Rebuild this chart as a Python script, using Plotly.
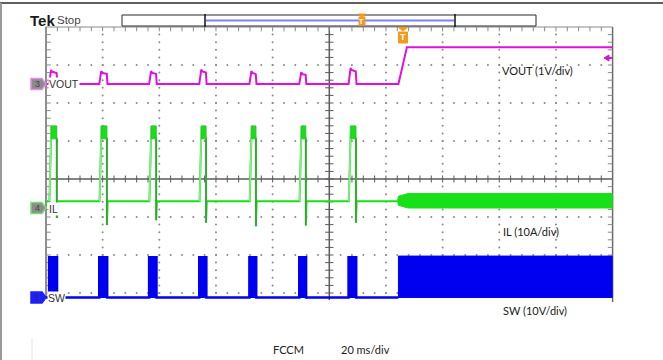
import plotly.graph_objects as go

W, H = 663, 360

# ---------------- data ----------------
T_END_MS = 200.0                      # 10 div x 20 ms/div
PULSE_ON_MS = [1.1, 18.8, 36.4, 54.1, 71.8, 89.4, 106.8]
PULSE_OFF_MS = [3.9, 21.6, 39.0, 56.6, 74.2, 91.8, 109.5]
SWITCH_START_MS = 124.4
SWITCH_FULL_MS = 127.8

VOUT_BASE_V = 0.0
VOUT_PEAK_V = [0.37, 0.34, 0.34, 0.38, 0.34, 0.31, 0.42]
VOUT_SAG_V = [0.29, 0.27, 0.27, 0.30, 0.26, 0.24, 0.33]
VOUT_RISE_END_MS = 127.4
VOUT_FINAL_V = 0.97

IL_BASE_A = 1.8
IL_PEAK_TOP_A = [21.6, 21.6, 21.6, 21.6, 21.6, 21.6, 21.6]
IL_PEAK_BOT_A = [18.2, 18.2, 18.2, 18.2, 18.2, 18.2, 18.2]
IL_UNDERSHOOT_A = [-2.6, -4.5, -3.2, -3.9, -4.8, -4.6, -3.9]
IL_RIPPLE_LOW_A = 0.0
IL_RIPPLE_HIGH_A = 3.8

SW_LOW_V = 0.0
SW_HIGH_V = [10.6, 10.6, 10.6, 10.6, 10.6, 10.6, 10.6]
SW_RIPPLE_HIGH_V = 10.9

# ---------------- scope geometry / style ----------------
GRID_TOP_DIV, GRID_BOT_DIV = 4.0, -3.184
VOUT_GND_DIV, VOUT_SCALE = 2.5, 1.0
IL_GND_DIV, IL_SCALE = -0.763, 10.0
SW_GND_DIV, SW_SCALE = -3.118, 10.0

C_VOUT = "#e010e0"
C_IL = "#18e018"
C_IL_RISE = "#8ee88e"
C_IL_FALL = "#3f9a3f"
C_SW = "#0000f0"
C_GRID = "#8a8a8a"
C_AXIS = "#5a5a5a"
ORANGE = "#f29a1a"

X0, X1 = 46.0, 612.6      # grid left/right in px
Y0, Y1 = 27.0, 300.0      # grid top/bottom in px


def px(x):
    return x / W


def py(y):
    return 1 - y / H


def ch_range(gnd, scale):
    return [(GRID_BOT_DIV - gnd) * scale, (GRID_TOP_DIV - gnd) * scale]


fig = go.Figure()

# ---------- grid dots ----------
gx, gy = [], []
minor_x = [i * 4.0 for i in range(0, 51)]
minor_y = [round(4 - 0.2 * k, 3) for k in range(0, 37) if 4 - 0.2 * k >= GRID_BOT_DIV]
for ymaj in [3, 2, 1, -1, -2, -3]:
    for xv in minor_x[1:-1]:
        if abs(xv - 100) > 0.1:
            gx.append(xv)
            gy.append(ymaj)
for xmaj in [20, 40, 60, 80, 120, 140, 160, 180]:
    for yv in minor_y[1:]:
        if abs(yv) > 0.05:
            gx.append(xmaj)
            gy.append(yv)
fig.add_trace(go.Scatter(x=gx, y=gy, mode="markers", hoverinfo="skip",
                         marker=dict(size=2, color=C_GRID), showlegend=False))

# ticks on center lines and frame edges
tx = [xv for xv in minor_x[1:-1]]
fig.add_trace(go.Scatter(x=tx, y=[0] * len(tx), mode="markers", hoverinfo="skip", showlegend=False,
                         marker=dict(symbol="line-ns", size=5, line=dict(width=1, color=C_AXIS))))
fig.add_trace(go.Scatter(x=tx, y=[GRID_TOP_DIV - 0.04] * len(tx), mode="markers", hoverinfo="skip",
                         showlegend=False,
                         marker=dict(symbol="line-ns", size=4, line=dict(width=1, color=C_GRID))))
ty = [yv for yv in minor_y[1:]]
fig.add_trace(go.Scatter(x=[100] * len(ty), y=ty, mode="markers", hoverinfo="skip", showlegend=False,
                         marker=dict(symbol="line-ew", size=6, line=dict(width=1, color=C_AXIS))))
fig.add_trace(go.Scatter(x=[0.7] * len(ty), y=ty, mode="markers", hoverinfo="skip", showlegend=False,
                         marker=dict(symbol="line-ew", size=4, line=dict(width=1, color=C_GRID))))
fig.add_trace(go.Scatter(x=[199.3] * len(ty), y=ty, mode="markers", hoverinfo="skip", showlegend=False,
                         marker=dict(symbol="line-ew", size=4, line=dict(width=1, color=C_GRID))))

# ---------- VOUT ----------
vt, vv = [0.0], [VOUT_BASE_V]
for on, off, pk, sg in zip(PULSE_ON_MS, PULSE_OFF_MS, VOUT_PEAK_V, VOUT_SAG_V):
    vt += [on, on + 0.7, on + 1.1, off - 0.15, off + 0.1]
    vv += [VOUT_BASE_V, pk, pk - 0.05, sg, VOUT_BASE_V]
vt += [SWITCH_START_MS, VOUT_RISE_END_MS, T_END_MS]
vv += [VOUT_BASE_V, VOUT_FINAL_V, VOUT_FINAL_V]
fig.add_trace(go.Scatter(x=vt, y=vv, yaxis="y2", mode="lines", hoverinfo="skip", showlegend=False,
                         line=dict(color=C_VOUT, width=2)))

# ---------- IL ----------
it, iv = [0.0], [IL_BASE_A]
for on, off, top, bot, us in zip(PULSE_ON_MS, PULSE_OFF_MS, IL_PEAK_TOP_A, IL_PEAK_BOT_A, IL_UNDERSHOOT_A):
    it += [on + 0.1, on + 0.8, off - 0.1, off - 0.1, off + 0.15]
    iv += [IL_BASE_A, top, bot, us, IL_BASE_A]
it += [SWITCH_START_MS - 0.3]
iv += [IL_BASE_A]
fig.add_trace(go.Scatter(x=it, y=iv, yaxis="y3", mode="lines", hoverinfo="skip", showlegend=False,
                         line=dict(color=C_IL, width=2)))
# rising edges (lighter) and falling edges (darker)
rx, ry, fx, fy = [], [], [], []
for on, off, top, bot, us in zip(PULSE_ON_MS, PULSE_OFF_MS, IL_PEAK_TOP_A, IL_PEAK_BOT_A, IL_UNDERSHOOT_A):
    rx += [on + 0.1, on + 0.8, None]
    ry += [IL_BASE_A, top, None]
    fx += [off - 0.1, off - 0.1, None]
    fy += [bot, us, None]
fig.add_trace(go.Scatter(x=rx, y=ry, yaxis="y3", mode="lines", hoverinfo="skip", showlegend=False,
                         line=dict(color=C_IL_RISE, width=1.5)))
fig.add_trace(go.Scatter(x=fx, y=fy, yaxis="y3", mode="lines", hoverinfo="skip", showlegend=False,
                         line=dict(color=C_IL_FALL, width=1.5)))
# peak ripple blocks
for on, off, top, bot in zip(PULSE_ON_MS, PULSE_OFF_MS, IL_PEAK_TOP_A, IL_PEAK_BOT_A):
    fig.add_trace(go.Scatter(x=[on + 0.8, off - 0.1, off - 0.1, on + 0.8, on + 0.8],
                             y=[top, top, bot, bot, top], yaxis="y3", mode="lines", fill="toself",
                             fillcolor=C_IL, hoverinfo="skip", showlegend=False,
                             line=dict(color="#2fbf2f", width=1)))
# continuous switching ripple band
mid = (IL_RIPPLE_LOW_A + IL_RIPPLE_HIGH_A) / 2
fig.add_trace(go.Scatter(
    x=[SWITCH_START_MS - 0.3, SWITCH_START_MS, SWITCH_FULL_MS, T_END_MS, T_END_MS,
       SWITCH_FULL_MS, SWITCH_START_MS, SWITCH_START_MS - 0.3],
    y=[mid, mid + 1.2, IL_RIPPLE_HIGH_A, IL_RIPPLE_HIGH_A, IL_RIPPLE_LOW_A,
       IL_RIPPLE_LOW_A, mid - 1.2, mid],
    yaxis="y3", mode="lines", fill="toself", fillcolor=C_IL, hoverinfo="skip", showlegend=False,
    line=dict(color=C_IL, width=1)))

# ---------- SW ----------
st, sv = [0.0], [SW_LOW_V]
for on, off, hi in zip(PULSE_ON_MS, PULSE_OFF_MS, SW_HIGH_V):
    st += [on, on, off, off]
    sv += [SW_LOW_V, hi, hi, SW_LOW_V]
st += [SWITCH_START_MS]
sv += [SW_LOW_V]
fig.add_trace(go.Scatter(x=st, y=sv, yaxis="y4", mode="lines", hoverinfo="skip", showlegend=False,
                         line=dict(color=C_SW, width=2.5)))
for on, off, hi in zip(PULSE_ON_MS, PULSE_OFF_MS, SW_HIGH_V):
    fig.add_trace(go.Scatter(x=[on, off, off, on, on], y=[SW_LOW_V, SW_LOW_V, hi, hi, SW_LOW_V],
                             yaxis="y4", mode="lines", fill="toself", fillcolor=C_SW,
                             hoverinfo="skip", showlegend=False, line=dict(color=C_SW, width=1)))
fig.add_trace(go.Scatter(x=[SWITCH_START_MS, T_END_MS, T_END_MS, SWITCH_START_MS, SWITCH_START_MS],
                         y=[SW_LOW_V, SW_LOW_V, SW_RIPPLE_HIGH_V, SW_RIPPLE_HIGH_V, SW_LOW_V],
                         yaxis="y4", mode="lines", fill="toself", fillcolor=C_SW,
                         hoverinfo="skip", showlegend=False, line=dict(color=C_SW, width=1)))

# ---------- shapes ----------
shapes = []


def pline(x0, y0, x1, y1, color, width, layer="above"):
    shapes.append(dict(type="line", xref="paper", yref="paper", x0=px(x0), y0=py(y0),
                       x1=px(x1), y1=py(y1), line=dict(color=color, width=width), layer=layer))


def ppath(points, fill, line_color, width=1):
    d = "M " + " L ".join(f"{px(x):.5f},{py(y):.5f}" for x, y in points) + " Z"
    shapes.append(dict(type="path", xref="paper", yref="paper", path=d, fillcolor=fill,
                       line=dict(color=line_color, width=width), layer="above"))


# outer picture border
pline(0, 3, W, 3, "#2a2a2a", 1.5)
pline(1, 3, 1, H, "#9a9a9a", 2)
pline(32, 338, 32, H, "#e4e4e4", 1)

# grid frame & center lines (below traces)
shapes.append(dict(type="line", xref="x", yref="y", x0=100, x1=100, y0=GRID_BOT_DIV, y1=GRID_TOP_DIV,
                   line=dict(color=C_AXIS, width=1.5), layer="below"))
shapes.append(dict(type="line", xref="x", yref="y", x0=0, x1=T_END_MS, y0=0, y1=0,
                   line=dict(color=C_AXIS, width=1.5), layer="below"))
pline(X0, Y0, X0, Y1 - 3, "#6a6a6a", 1.5, "below")
pline(X1, Y0, X1, Y1 + 2, "#6a6a6a", 1.5, "below")
pline(X0, Y0, X1, Y0, "#8a8a8a", 1, "below")

# record-length bar
shapes.append(dict(type="rect", xref="paper", yref="paper", x0=px(122), x1=px(536), y0=py(26), y1=py(15),
                   line=dict(color="#2a2a2a", width=1), fillcolor="white", layer="above"))
pline(206, 20.5, 454, 20.5, "#7f7fff", 2)
pline(205, 14, 205, 27, "#111111", 1.5)
pline(455, 14, 455, 27, "#111111", 1.5)

# trigger markers
ppath([(358.5, 14), (365.5, 14), (362, 17.5)], ORANGE, ORANGE)
shapes.append(dict(type="rect", xref="paper", yref="paper", x0=px(359), x1=px(365), y0=py(25), y1=py(17),
                   line=dict(color=ORANGE, width=1), fillcolor=ORANGE, layer="above"))
ppath([(398.5, 27.5), (407.5, 27.5), (403, 31)], ORANGE, ORANGE)
shapes.append(dict(type="rect", xref="paper", yref="paper", x0=px(398.5), x1=px(407.5), y0=py(43),
                   y1=py(32), line=dict(color=ORANGE, width=1), fillcolor=ORANGE, layer="above"))

# trigger level arrow (right)
ppath([(604, 58), (609, 55), (609, 61)], "#c81ec8", "#c81ec8")
pline(608, 58, 613, 58, "#c81ec8", 2)

# channel ground markers
ppath([(31, 78.5), (42, 78.5), (46, 84), (42, 89.5), (31, 89.5)], "#8c8c8c", "#e58ae5", 1.5)
ppath([(31, 202.5), (42, 202.5), (46, 208), (42, 213.5), (31, 213.5)], "#8c8c8c", "#6ee06e", 1.5)
ppath([(31, 292), (42, 292), (46, 297.5), (42, 303), (31, 303)], "#1e1eff", "#1e1eff", 1.5)

# ---------- text ----------
ann = []


def text(x, y, s, size, color="#222222", family="Lato", anchor="left", bg=None, bold=False):
    ann.append(dict(xref="paper", yref="paper", x=px(x), y=py(y), text=f"<b>{s}</b>" if bold else s,
                    showarrow=False, xanchor=anchor, yanchor="middle",
                    font=dict(size=size, color=color, family=family),
                    bgcolor=bg, borderpad=0))


text(29, 20, "Tek", 15, "#1a1a1a", "Liberation Sans", bold=True)
text(56, 20, "Stop", 11.5, "#444444", "Liberation Sans")
text(362, 21.5, "T", 7, "white", "Liberation Sans", anchor="center", bold=True)
text(403, 37.5, "T", 9, "white", "Liberation Sans", anchor="center", bold=True)
text(37, 84, "3", 9, "#444444", "Liberation Sans", anchor="center")
text(37, 208, "4", 9, "#444444", "Liberation Sans", anchor="center")
text(37, 297.5, "1", 9, "#333333", "Liberation Sans", anchor="center")
text(48, 84, "VOUT", 10.5, "#333333", "Liberation Sans", bg="white")
text(48, 209, "IL", 10.5, "#333333", "Liberation Sans", bg="white")
text(47, 298, "SW", 10.5, "#333333", "Liberation Sans", bg="white")
text(501, 71, "VOUT (1V/div)", 11, "#222222")
text(502, 231, "IL (10A/div)", 11, "#222222")
text(502, 310, "SW (10V/div)", 11, "#222222")
text(272, 349, "FCCM", 11, "#222222")
text(340, 349, "20 ms/div", 11, "#222222")

dom_y = [py(Y1), py(Y0)]
fig.update_layout(
    width=W, height=H, margin=dict(l=0, r=0, t=0, b=0),
    paper_bgcolor="white", plot_bgcolor="white", showlegend=False,
    xaxis=dict(range=[0, T_END_MS], domain=[px(X0), px(X1)], visible=False, fixedrange=True),
    yaxis=dict(range=[GRID_BOT_DIV, GRID_TOP_DIV], domain=dom_y, visible=False, fixedrange=True),
    yaxis2=dict(range=ch_range(VOUT_GND_DIV, VOUT_SCALE), overlaying="y", visible=False, fixedrange=True),
    yaxis3=dict(range=ch_range(IL_GND_DIV, IL_SCALE), overlaying="y", visible=False, fixedrange=True),
    yaxis4=dict(range=ch_range(SW_GND_DIV, SW_SCALE), overlaying="y", visible=False, fixedrange=True),
    shapes=shapes, annotations=ann,
)

fig.write_html("out.html", config={"displayModeBar": False},
               post_script="document.body.style.margin='0';document.body.style.overflow='hidden';")
